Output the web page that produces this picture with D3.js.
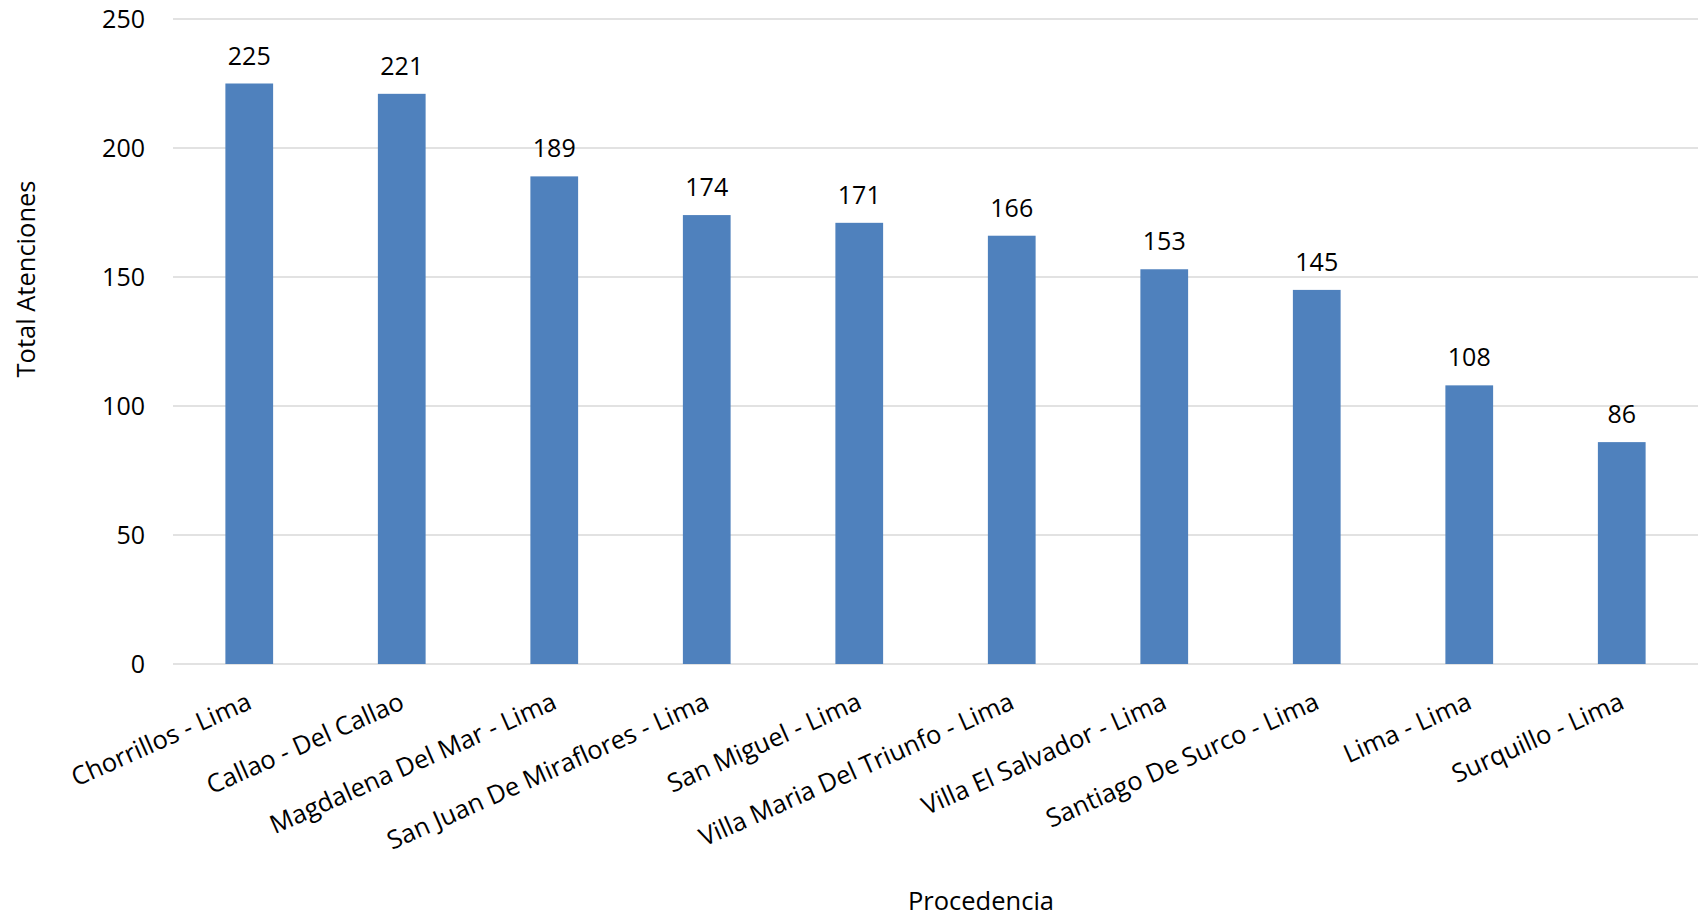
<!DOCTYPE html>
<html>
<head>
<meta charset="utf-8">
<script src="https://cdn.jsdelivr.net/npm/d3@7"></script>
<style>
  html, body { margin: 0; padding: 0; background: #fff; }
  svg { display: block; }
  text { font-family: "Open Sans", Lato, sans-serif; fill: #000; }
</style>
</head>
<body>
<svg id="chart" width="1698" height="917"></svg>
<script>
const categories = [
  "Chorrillos - Lima",
  "Callao - Del Callao",
  "Magdalena Del Mar - Lima",
  "San Juan De Miraflores - Lima",
  "San Miguel - Lima",
  "Villa Maria Del Triunfo - Lima",
  "Villa El Salvador - Lima",
  "Santiago De Surco - Lima",
  "Lima - Lima",
  "Surquillo - Lima"
];
const values = [225, 221, 189, 174, 171, 166, 153, 145, 108, 86];
const yTicks = [0, 50, 100, 150, 200, 250];
const yTitle = "Total Atenciones";
const xTitle = "Procedencia";

const svg = d3.select("#chart");
const mLeft = 173, mRight = 1698, mTop = 19, mBottom = 664;

const x = d3.scaleBand().domain(categories).range([mLeft, mRight]).paddingInner(0.687).paddingOuter(0.3435);
const y = d3.scaleLinear().domain([0, 250]).range([mBottom, mTop]);

// gridlines
svg.append("g").selectAll("line").data(yTicks).join("line")
  .attr("x1", mLeft).attr("x2", mRight)
  .attr("y1", d => y(d)).attr("y2", d => y(d))
  .attr("stroke", "#d9d9d9").attr("stroke-width", 1.5);

// y axis labels
const yAxis = d3.axisLeft(y).tickValues(yTicks).tickSize(0).tickPadding(0);
const gy = svg.append("g").attr("transform", `translate(${mLeft - 28},0)`).call(yAxis);
gy.select(".domain").remove();
gy.selectAll("text").attr("font-size", 25).attr("font-family", "Open Sans").attr("fill", "#000").attr("dy", "0.35em");

// bars
svg.append("g").selectAll("rect").data(values).join("rect")
  .attr("x", (d, i) => x(categories[i]))
  .attr("width", x.bandwidth())
  .attr("y", d => y(d))
  .attr("height", d => y(0) - y(d))
  .attr("fill", "#4f81bd");

// data labels
svg.append("g").selectAll("text").data(values).join("text")
  .attr("x", (d, i) => x(categories[i]) + x.bandwidth() / 2)
  .attr("y", d => y(d) - 19)
  .attr("text-anchor", "middle")
  .attr("font-size", 25)
  .text(d => d);

// x category labels
const xAxis = d3.axisBottom(x).tickSize(0).tickPadding(0);
const gx = svg.append("g").attr("transform", `translate(0,${mBottom})`).call(xAxis);
gx.select(".domain").remove();
gx.selectAll("text")
  .attr("font-size", 25.5)
  .attr("font-family", "Open Sans")
  .attr("fill", "#000")
  .attr("text-anchor", "end")
  .attr("dy", null)
  .attr("y", 0)
  .attr("transform", "translate(4,44) rotate(-24)");

// axis titles
svg.append("text")
  .attr("transform", "translate(35,279) rotate(-90)")
  .attr("text-anchor", "middle")
  .attr("font-size", 25.5)
  .text(yTitle);

svg.append("text")
  .attr("x", 981).attr("y", 910)
  .attr("text-anchor", "middle")
  .attr("font-size", 25.5)
  .text(xTitle);
</script>
</body>
</html>
